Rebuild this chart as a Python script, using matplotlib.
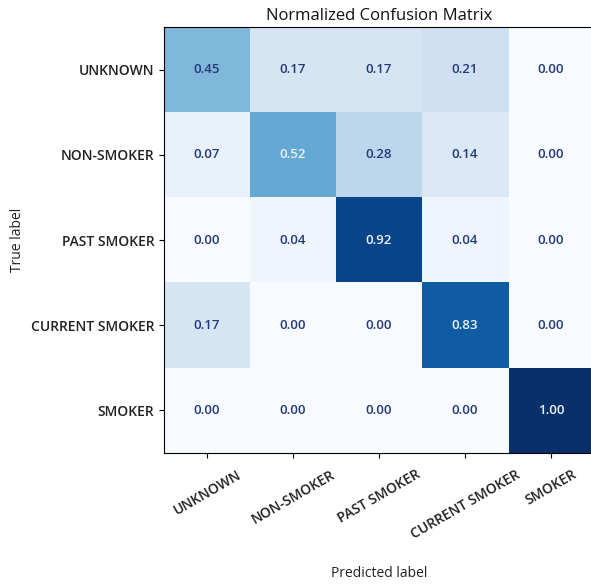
import numpy as np
import matplotlib
matplotlib.use("Agg")
import matplotlib.pyplot as plt

# class labels and normalized confusion matrix values
labels = ["UNKNOWN", "NON-SMOKER", "PAST SMOKER", "CURRENT SMOKER", "SMOKER"]
row_unknown = [0.45, 0.17, 0.17, 0.21, 0.00]
row_non_smoker = [0.07, 0.52, 0.28, 0.14, 0.00]
row_past_smoker = [0.00, 0.04, 0.92, 0.04, 0.00]
row_current_smoker = [0.17, 0.00, 0.00, 0.83, 0.00]
row_smoker = [0.00, 0.00, 0.00, 0.00, 1.00]

cm_values = np.array([row_unknown, row_non_smoker, row_past_smoker,
                      row_current_smoker, row_smoker])

plt.rcParams['font.family'] = ['Open Sans', 'DejaVu Sans']

fig = plt.figure(figsize=(5.91, 5.85), dpi=100)
W, H = 591, 585
ax = fig.add_axes([164 / W, 1 - 453 / H, 430 / W, 426 / H])

cmap = plt.get_cmap("Blues")
im = ax.imshow(cm_values, cmap=cmap, vmin=0, vmax=1, aspect="auto",
               interpolation="nearest")

# annotate cells, sklearn style
thresh = (cm_values.max() + cm_values.min()) / 2.0
for i in range(cm_values.shape[0]):
    for j in range(cm_values.shape[1]):
        v = cm_values[i, j]
        color = "#eef3fa" if v > thresh else "#24397a"
        ax.text(j, i, f"{v:.2f}", ha="center", va="center",
                color=color, fontsize=9.5, fontweight="semibold")

ax.set_xticks(np.arange(len(labels)))
ax.set_yticks(np.arange(len(labels)))
ax.set_xticklabels(labels, rotation=30, ha="center", fontsize=10,
                   color="#222222", fontweight="semibold")
ax.set_yticklabels(labels, fontsize=10, color="#222222",
                   fontweight="semibold")
ax.tick_params(axis="x", pad=7)
ax.set_xlabel("Predicted label", fontsize=10, labelpad=18, color="#222222")
ax.set_ylabel("True label", fontsize=10, color="#222222")
ax.set_title("Normalized Confusion Matrix", fontsize=12, pad=5,
             color="#111111")

plt.savefig("out.png", dpi=100)
